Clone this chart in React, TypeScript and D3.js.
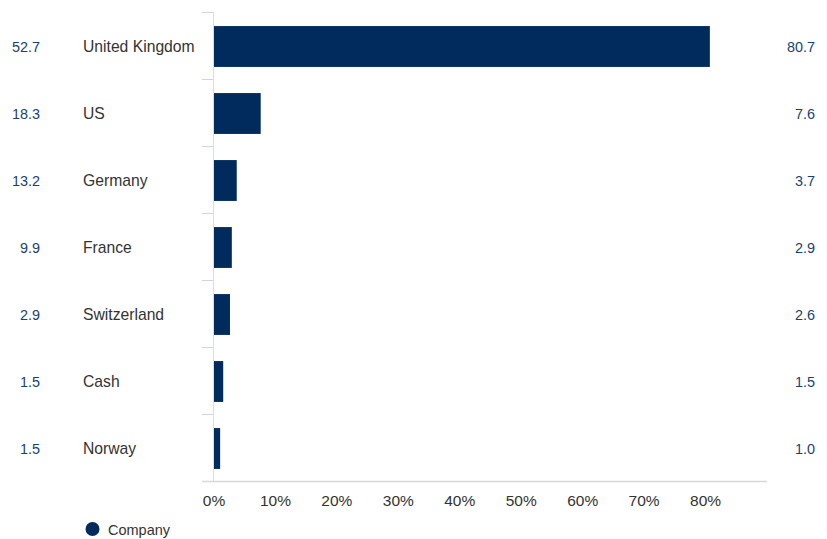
import React from "react";
import * as d3 from "d3";

const categories = ["United Kingdom", "US", "Germany", "France", "Switzerland", "Cash", "Norway"];
const companyValues = [80.7, 7.6, 3.7, 2.9, 2.6, 1.5, 1.0];
const leftValues = ["52.7", "18.3", "13.2", "9.9", "2.9", "1.5", "1.5"];
const rightValues = ["80.7", "7.6", "3.7", "2.9", "2.6", "1.5", "1.0"];
const xTicks = [0, 10, 20, 30, 40, 50, 60, 70, 80];
const seriesName = "Company";

const W = 827;
const H = 539;
const FONT = "'Liberation Sans', Arial, Helvetica, sans-serif";
const BAR = "#002b5c";
const VAL = "#1b3f73";
const AXIS = "#ccd6eb";

export default function App() {
  const x = d3.scaleLinear().domain([0, 90]).range([214, 767]);
  const y = d3.scaleBand<string>().domain(categories).range([13, 482]).paddingInner(0.39).paddingOuter(0.195);
  const step = y.step();
  const boundaries = d3.range(categories.length + 1).map((i) => 12 + i * step);
  const cy = (c: string) => (y(c) ?? 0) + y.bandwidth() / 2;

  return (
    <svg width={W} height={H} style={{ position: "absolute", left: 0, top: 0, background: "#fff" }} fontFamily={FONT}>
      {boundaries.map((b, i) => (
        <line key={"b" + i} x1={202} x2={214} y1={b + 0.5} y2={b + 0.5} stroke={AXIS} strokeWidth={1} />
      ))}
      <line x1={x(0) - 0.5} x2={x(0) - 0.5} y1={12} y2={481} stroke="#dcdcdc" strokeWidth={1} />
      <line x1={202} x2={x(90)} y1={481.5} y2={481.5} stroke="#d8d8d8" strokeWidth={1.5} />
      {categories.map((c, i) => (
        <rect key={c} x={x(0)} y={y(c)} width={x(companyValues[i]) - x(0)} height={y.bandwidth()} fill={BAR} />
      ))}
      {categories.map((c) => (
        <text key={"l" + c} x={83} y={cy(c)} dy="0.35em" fontSize={15.7} fill="#333333">
          {c}
        </text>
      ))}
      {categories.map((c, i) => (
        <text key={"lv" + c} x={40} y={cy(c)} dy="0.35em" fontSize={14.4} fill={VAL} textAnchor="end">
          {leftValues[i]}
        </text>
      ))}
      {categories.map((c, i) => (
        <text key={"rv" + c} x={815} y={cy(c)} dy="0.35em" fontSize={14.4} fill={VAL} textAnchor="end">
          {rightValues[i]}
        </text>
      ))}
      {xTicks.map((t) => (
        <text key={"t" + t} x={x(t)} y={501} dy="0.35em" fontSize={15.5} fill="#333333" textAnchor="middle">
          {t + "%"}
        </text>
      ))}
      <circle cx={92.5} cy={529} r={7} fill={BAR} />
      <text x={108} y={529.5} dy="0.35em" fontSize={14.5} fill="#333333">
        {seriesName}
      </text>
    </svg>
  );
}
